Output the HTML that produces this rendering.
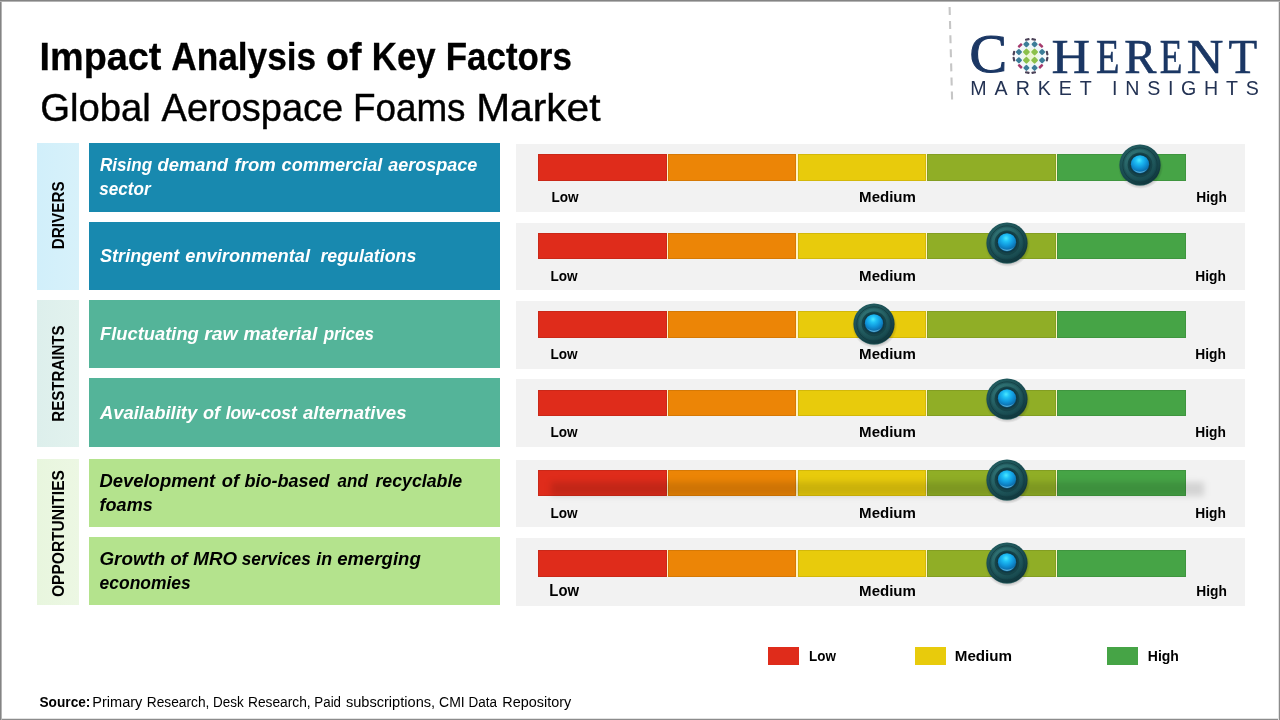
<!DOCTYPE html>
<html lang="en">
<head>
<meta charset="utf-8">
<title>Impact Analysis of Key Factors - Global Aerospace Foams Market</title>
<style>
html,body{margin:0;padding:0;background:#fff;}
body{width:1280px;height:720px;position:relative;overflow:hidden;font-family:'Liberation Sans',sans-serif;}
#frame{position:absolute;left:0;top:0;width:1280px;height:720px;z-index:50;pointer-events:none;background:
linear-gradient(#848484,#848484) 0 0/100% 1px no-repeat,linear-gradient(#b4b4b4,#b4b4b4) 0 1px/100% 1px no-repeat,
linear-gradient(#848484,#848484) 0 0/1px 100% no-repeat,linear-gradient(#b4b4b4,#b4b4b4) 1px 0/1px 100% no-repeat,
linear-gradient(#8c8c8c,#8c8c8c) 100% 0/1px 100% no-repeat,linear-gradient(#e2e2e2,#e2e2e2) 1278px 0/1px 100% no-repeat,
linear-gradient(#8c8c8c,#8c8c8c) 0 100%/100% 1px no-repeat,linear-gradient(#e2e2e2,#e2e2e2) 0 718px/100% 1px no-repeat;}
.b{position:absolute;}
.t{position:absolute;left:0;top:0;white-space:nowrap;transform-origin:0 0;margin:0;padding:0;}
.t span{display:inline-block;width:0;white-space:nowrap;transform-origin:0 0;}
.cat{position:absolute;left:37px;width:42.3px;}
.f1{background:#1889af;} .f2{background:#54b499;} .f3{background:#b4e38d;}
.fac{position:absolute;left:89.2px;width:410.8px;}
.pan{position:absolute;left:516.2px;width:728.7px;background:#f2f2f2;}
.bar{position:absolute;left:538px;width:648px;background:#fff4c6;}
.bar i{position:absolute;top:0;height:100%;box-shadow:inset 0 0 0 1px rgba(0,0,0,.09);}
.s1{left:0;width:128.8px;background:#df2c1b;} .s2{left:129.9px;width:128px;background:#ec8506;} .s3{left:260.1px;width:127.8px;background:#e8cb0c;} .s4{left:389.05px;width:128.75px;background:#90ae26;} .s5{left:519.05px;width:128.95px;background:#46a446;}
.lg{position:absolute;top:647px;height:18.2px;width:31.2px;}
svg.k{position:absolute;overflow:visible;}
</style>
</head>
<body>
<!-- category columns -->
<div class="cat" style="top:143px;height:146.8px;background:linear-gradient(90deg,#d1effa,#d7f1fa)"></div>
<div class="cat" style="top:300px;height:147px;background:linear-gradient(90deg,#ddefec,#e2f2ee)"></div>
<div class="cat" style="top:459.2px;height:145.4px;background:linear-gradient(90deg,#e8f6de,#ecf7e3)"></div>

<!-- factor boxes -->
<div class="fac f1" style="top:143.2px;height:68.6px"></div>
<div class="fac f1" style="top:222px;height:67.5px"></div>
<div class="fac f2" style="top:300px;height:67.5px"></div>
<div class="fac f2" style="top:378.2px;height:68.8px"></div>
<div class="fac f3" style="top:459.2px;height:67.6px"></div>
<div class="fac f3" style="top:537px;height:67.5px"></div>

<!-- panels -->
<div class="pan" style="top:144.2px;height:67.6px"></div>
<div class="pan" style="top:223px;height:67px"></div>
<div class="pan" style="top:301.2px;height:67.5px"></div>
<div class="pan" style="top:379.2px;height:67.8px"></div>
<div class="pan" style="top:460px;height:66.8px"></div>
<div class="pan" style="top:538px;height:67.7px"></div>

<!-- bars -->
<div class="bar" style="top:154px;height:26.8px"><i class="s1"></i><i class="s2"></i><i class="s3"></i><i class="s4"></i><i class="s5"></i></div>
<div class="bar" style="top:232.8px;height:26.2px"><i class="s1"></i><i class="s2"></i><i class="s3"></i><i class="s4"></i><i class="s5"></i></div>
<div class="bar" style="top:311px;height:26.8px"><i class="s1"></i><i class="s2"></i><i class="s3"></i><i class="s4"></i><i class="s5"></i></div>
<div class="bar" style="top:390px;height:25.8px"><i class="s1"></i><i class="s2"></i><i class="s3"></i><i class="s4"></i><i class="s5"></i></div>
<div class="bar" style="top:470px;height:25.8px"><i class="s1"></i><i class="s2"></i><i class="s3"></i><i class="s4"></i><i class="s5"></i></div>
<div class="bar" style="top:550px;height:26.8px"><i class="s1"></i><i class="s2"></i><i class="s3"></i><i class="s4"></i><i class="s5"></i></div>
<!-- odd shadow on row 5 -->
<div class="b" style="left:551px;top:481.5px;width:653px;height:14px;background:rgba(0,0,0,.125);filter:blur(3px)"></div>

<!-- legend swatches -->
<div class="lg" style="left:768px;background:#df2c1b"></div>
<div class="lg" style="left:914.6px;background:#e8cb0c"></div>
<div class="lg" style="left:1107px;background:#46a446"></div>

<!-- knob definition + instances -->
<svg width="0" height="0" style="position:absolute">
<defs>
<radialGradient id="kg1" cx="42%" cy="36%" r="62%"><stop offset="0" stop-color="#2a686b"/><stop offset=".55" stop-color="#20585c"/><stop offset=".85" stop-color="#17474d"/><stop offset="1" stop-color="#11383e"/></radialGradient>
<linearGradient id="kg2" x1=".2" y1="0" x2=".8" y2="1"><stop offset="0" stop-color="#3f8b8b"/><stop offset=".5" stop-color="#266366"/><stop offset="1" stop-color="#174a4f"/></linearGradient>
<radialGradient id="kg3" cx="45%" cy="28%" r="72%"><stop offset="0" stop-color="#4ae8ff"/><stop offset=".25" stop-color="#1fc0f5"/><stop offset=".55" stop-color="#1199dd"/><stop offset=".85" stop-color="#0c72b2"/><stop offset="1" stop-color="#0a5a8c"/></radialGradient>
<radialGradient id="ksh" cx="50%" cy="50%" r="50%"><stop offset=".72" stop-color="#000" stop-opacity=".34"/><stop offset="1" stop-color="#000" stop-opacity="0"/></radialGradient>
</defs>
</svg>
<svg class="k" style="left:1140.35px;top:165.1px" width="1" height="1"><g><ellipse cx="0.6" cy="2" rx="22.6" ry="22" fill="url(#ksh)"/><circle r="20.6" fill="url(#kg1)"/><path d="M-15.5 13.6 A20.6 20.6 0 0 0 15.5 13.6 A22.5 22.5 0 0 1 -15.5 13.6Z" fill="#3f8f8a" opacity=".4"/><circle r="17.2" fill="none" stroke="#10383d" stroke-width=".9" opacity=".75"/><circle r="15.4" fill="url(#kg2)" opacity=".42"/><circle r="12.4" cy="-.2" fill="#164449"/><circle r="10.6" cy="-.6" fill="#103a44"/><circle r="9.1" cy="-.7" fill="url(#kg3)"/><path d="M-7.2 3.6 A8.2 8.2 0 0 0 7.2 3.6 A9.6 9.6 0 0 1 -7.2 3.6Z" fill="#8fe0fa" opacity=".6"/></g></svg>
<svg class="k" style="left:1007.2px;top:242.8px" width="1" height="1"><g><ellipse cx="0.6" cy="2" rx="22.6" ry="22" fill="url(#ksh)"/><circle r="20.6" fill="url(#kg1)"/><path d="M-15.5 13.6 A20.6 20.6 0 0 0 15.5 13.6 A22.5 22.5 0 0 1 -15.5 13.6Z" fill="#3f8f8a" opacity=".4"/><circle r="17.2" fill="none" stroke="#10383d" stroke-width=".9" opacity=".75"/><circle r="15.4" fill="url(#kg2)" opacity=".42"/><circle r="12.4" cy="-.2" fill="#164449"/><circle r="10.6" cy="-.6" fill="#103a44"/><circle r="9.1" cy="-.7" fill="url(#kg3)"/><path d="M-7.2 3.6 A8.2 8.2 0 0 0 7.2 3.6 A9.6 9.6 0 0 1 -7.2 3.6Z" fill="#8fe0fa" opacity=".6"/></g></svg>
<svg class="k" style="left:874.1px;top:324.2px" width="1" height="1"><g><ellipse cx="0.6" cy="2" rx="22.6" ry="22" fill="url(#ksh)"/><circle r="20.6" fill="url(#kg1)"/><path d="M-15.5 13.6 A20.6 20.6 0 0 0 15.5 13.6 A22.5 22.5 0 0 1 -15.5 13.6Z" fill="#3f8f8a" opacity=".4"/><circle r="17.2" fill="none" stroke="#10383d" stroke-width=".9" opacity=".75"/><circle r="15.4" fill="url(#kg2)" opacity=".42"/><circle r="12.4" cy="-.2" fill="#164449"/><circle r="10.6" cy="-.6" fill="#103a44"/><circle r="9.1" cy="-.7" fill="url(#kg3)"/><path d="M-7.2 3.6 A8.2 8.2 0 0 0 7.2 3.6 A9.6 9.6 0 0 1 -7.2 3.6Z" fill="#8fe0fa" opacity=".6"/></g></svg>
<svg class="k" style="left:1007.2px;top:399.1px" width="1" height="1"><g><ellipse cx="0.6" cy="2" rx="22.6" ry="22" fill="url(#ksh)"/><circle r="20.6" fill="url(#kg1)"/><path d="M-15.5 13.6 A20.6 20.6 0 0 0 15.5 13.6 A22.5 22.5 0 0 1 -15.5 13.6Z" fill="#3f8f8a" opacity=".4"/><circle r="17.2" fill="none" stroke="#10383d" stroke-width=".9" opacity=".75"/><circle r="15.4" fill="url(#kg2)" opacity=".42"/><circle r="12.4" cy="-.2" fill="#164449"/><circle r="10.6" cy="-.6" fill="#103a44"/><circle r="9.1" cy="-.7" fill="url(#kg3)"/><path d="M-7.2 3.6 A8.2 8.2 0 0 0 7.2 3.6 A9.6 9.6 0 0 1 -7.2 3.6Z" fill="#8fe0fa" opacity=".6"/></g></svg>
<svg class="k" style="left:1007.2px;top:480.2px" width="1" height="1"><g><ellipse cx="0.6" cy="2" rx="22.6" ry="22" fill="url(#ksh)"/><circle r="20.6" fill="url(#kg1)"/><path d="M-15.5 13.6 A20.6 20.6 0 0 0 15.5 13.6 A22.5 22.5 0 0 1 -15.5 13.6Z" fill="#3f8f8a" opacity=".4"/><circle r="17.2" fill="none" stroke="#10383d" stroke-width=".9" opacity=".75"/><circle r="15.4" fill="url(#kg2)" opacity=".42"/><circle r="12.4" cy="-.2" fill="#164449"/><circle r="10.6" cy="-.6" fill="#103a44"/><circle r="9.1" cy="-.7" fill="url(#kg3)"/><path d="M-7.2 3.6 A8.2 8.2 0 0 0 7.2 3.6 A9.6 9.6 0 0 1 -7.2 3.6Z" fill="#8fe0fa" opacity=".6"/></g></svg>
<svg class="k" style="left:1007.2px;top:563.2px" width="1" height="1"><g><ellipse cx="0.6" cy="2" rx="22.6" ry="22" fill="url(#ksh)"/><circle r="20.6" fill="url(#kg1)"/><path d="M-15.5 13.6 A20.6 20.6 0 0 0 15.5 13.6 A22.5 22.5 0 0 1 -15.5 13.6Z" fill="#3f8f8a" opacity=".4"/><circle r="17.2" fill="none" stroke="#10383d" stroke-width=".9" opacity=".75"/><circle r="15.4" fill="url(#kg2)" opacity=".42"/><circle r="12.4" cy="-.2" fill="#164449"/><circle r="10.6" cy="-.6" fill="#103a44"/><circle r="9.1" cy="-.7" fill="url(#kg3)"/><path d="M-7.2 3.6 A8.2 8.2 0 0 0 7.2 3.6 A9.6 9.6 0 0 1 -7.2 3.6Z" fill="#8fe0fa" opacity=".6"/></g></svg>

<!-- logo -->
<svg class="b" style="left:940px;top:0" width="340" height="110" viewBox="940 0 340 110" role="img" aria-label="COHERENT MARKET INSIGHTS logo mark">
<title>COHERENT MARKET INSIGHTS</title>
<line x1="949.6" y1="7" x2="952.1" y2="100" stroke="#c6c6c6" stroke-width="2.1" stroke-dasharray="8 6.1"/>
<defs><radialGradient id="gh" cx="50%" cy="50%" r="50%"><stop offset="0" stop-color="#eaf6d0"/><stop offset=".38" stop-color="#f0f8e2"/><stop offset=".5" stop-color="#edf6f8"/><stop offset=".82" stop-color="#f6fafc"/><stop offset="1" stop-color="#fff" stop-opacity="0"/></radialGradient></defs>
<circle cx="1030.5" cy="56.1" r="17.5" fill="url(#gh)"/>
<g id="globe" transform="translate(1030.5 56.1)">
 <g fill="#8bc04a">
  <rect x="-3" y="-3" width="6" height="6" rx="1.2" transform="translate(-4.1 -4.1) rotate(45) scale(.9)"/>
  <rect x="-3" y="-3" width="6" height="6" rx="1.2" transform="translate(4.1 -4.1) rotate(45) scale(.9)"/>
  <rect x="-3" y="-3" width="6" height="6" rx="1.2" transform="translate(-4.1 4.1) rotate(45) scale(.9)"/>
  <rect x="-3" y="-3" width="6" height="6" rx="1.2" transform="translate(4.1 4.1) rotate(45) scale(.9)"/>
 </g>
 <g fill="#3c7d98">
  <rect x="-3" y="-3" width="6" height="6" rx="1.2" transform="translate(-4.1 -11.8) rotate(45) scale(.8)"/>
  <rect x="-3" y="-3" width="6" height="6" rx="1.2" transform="translate(4.1 -11.8) rotate(45) scale(.8)"/>
  <rect x="-3" y="-3" width="6" height="6" rx="1.2" transform="translate(-4.1 11.8) rotate(45) scale(.8)"/>
  <rect x="-3" y="-3" width="6" height="6" rx="1.2" transform="translate(4.1 11.8) rotate(45) scale(.8)"/>
  <rect x="-3" y="-3" width="6" height="6" rx="1.2" transform="translate(-11.6 -4.1) rotate(45) scale(.8)"/>
  <rect x="-3" y="-3" width="6" height="6" rx="1.2" transform="translate(-11.6 4.1) rotate(45) scale(.8)"/>
  <rect x="-3" y="-3" width="6" height="6" rx="1.2" transform="translate(11.6 -4.1) rotate(45) scale(.8)"/>
  <rect x="-3" y="-3" width="6" height="6" rx="1.2" transform="translate(11.6 4.1) rotate(45) scale(.8)"/>
 </g>
 <g fill="#a63a6c">
  <rect x="-2.5" y="-1.3" width="5" height="2.6" rx=".8" transform="translate(-10.4 -10.6) rotate(-45)"/>
  <rect x="-2.5" y="-1.3" width="5" height="2.6" rx=".8" transform="translate(10.4 -10.6) rotate(45)"/>
  <rect x="-2.5" y="-1.3" width="5" height="2.6" rx=".8" transform="translate(-10.4 10.2) rotate(45)"/>
  <rect x="-2.5" y="-1.3" width="5" height="2.6" rx=".8" transform="translate(10.4 10.2) rotate(-45)"/>
 </g>
 <g fill="#4b4258">
  <rect x="-2.3" y="-1.1" width="4.6" height="2.2" rx=".8" transform="translate(-3.2 -16.7) rotate(-12)"/>
  <rect x="-2.3" y="-1.1" width="4.6" height="2.2" rx=".8" transform="translate(3.2 -16.7) rotate(12)"/>
  <rect x="-2.3" y="-1.1" width="4.6" height="2.2" rx=".8" transform="translate(-3.2 16.5) rotate(12)"/>
  <rect x="-2.3" y="-1.1" width="4.6" height="2.2" rx=".8" transform="translate(3.2 16.5) rotate(-12)"/>
  <rect x="-1.1" y="-2.3" width="2.2" height="4.6" rx=".8" transform="translate(-16.6 -3) rotate(12)"/>
  <rect x="-1.1" y="-2.3" width="2.2" height="4.6" rx=".8" transform="translate(-16.6 3) rotate(-12)"/>
  <rect x="-1.1" y="-2.3" width="2.2" height="4.6" rx=".8" transform="translate(16.6 -3) rotate(-12)"/>
  <rect x="-1.1" y="-2.3" width="2.2" height="4.6" rx=".8" transform="translate(16.6 3) rotate(12)"/>
 </g>
</g>
</svg>

<div class="t" style="font:bold 39.5px/46px 'Liberation Sans', sans-serif;color:#000;-webkit-text-stroke:.3px #000;transform:translate(39px,33px)"><span style="transform:translateX(0.48px) scaleX(0.9581)">Impact</span> <span style="margin-left:121.026px;transform:translateX(0.26px) scaleX(0.8918)">Analysis</span> <span style="margin-left:144.026px;transform:translateX(0.08px) scaleX(0.9517)">of</span> <span style="margin-left:34.026px;transform:translateX(0.81px) scaleX(0.8800)">Key</span> <span style="margin-left:63.026px;transform:translateX(0.78px) scaleX(0.8836)">Factors</span></div>
<div class="t" style="font:39.5px/46px 'Liberation Sans', sans-serif;color:#000;-webkit-text-stroke:.4px #000;transform:translate(40px,84px)"><span style="transform:translateX(0.13px) scaleX(0.9683)">Global</span> <span style="margin-left:110.026px;transform:translateX(0.62px) scaleX(0.9617)">Aerospace</span> <span style="margin-left:180.026px;transform:translateX(0.92px) scaleX(0.9328)">Foams</span> <span style="margin-left:113.026px;transform:translateX(0.16px) scaleX(1.0306)">Market</span></div>
<div class="t" style="font:italic bold 19.2px/23px 'Liberation Sans', sans-serif;color:#fff;transform:translate(99px,153px)"><span style="transform:translateX(0.90px) scaleX(0.8903)">Rising</span> <span style="margin-left:52.669px;transform:translateX(0.52px) scaleX(0.9590)">demand</span> <span style="margin-left:71.669px;transform:translateX(0.46px) scaleX(0.9682)">from</span> <span style="margin-left:41.669px;transform:translateX(0.61px) scaleX(0.9448)">commercial</span> <span style="margin-left:101.669px;transform:translateX(0.13px) scaleX(0.9392)">aerospace</span></div>
<div class="t" style="font:italic bold 19.2px/23px 'Liberation Sans', sans-serif;color:#fff;transform:translate(99.30px,177px) scaleX(0.8914)">sector</div>
<div class="t" style="font:italic bold 19.2px/23px 'Liberation Sans', sans-serif;color:#fff;transform:translate(100px,244px)"><span style="transform:translateX(0.00px) scaleX(0.9429)">Stringent</span> <span style="margin-left:79.669px;transform:translateX(0.30px) scaleX(0.9506)">environmental</span> <span style="margin-left:129.669px;transform:translateX(0.40px) scaleX(0.9273)">regulations</span></div>
<div class="t" style="font:italic bold 19.2px/23px 'Liberation Sans', sans-serif;color:#fff;transform:translate(100px,322px)"><span style="transform:translateX(0.00px) scaleX(0.9555)">Fluctuating</span> <span style="margin-left:98.669px;transform:translateX(0.23px) scaleX(1.0131)">raw</span> <span style="margin-left:33.669px;transform:translateX(0.51px) scaleX(1.0018)">material</span> <span style="margin-left:74.669px;transform:translateX(0.71px) scaleX(0.8880)">prices</span></div>
<div class="t" style="font:italic bold 19.2px/23px 'Liberation Sans', sans-serif;color:#fff;transform:translate(99px,401px)"><span style="transform:translateX(0.96px) scaleX(0.9596)">Availability</span> <span style="margin-left:97.669px;transform:translateX(0.99px) scaleX(0.9444)">of</span> <span style="margin-left:17.669px;transform:translateX(0.65px) scaleX(0.9149)">low-cost</span> <span style="margin-left:71.669px;transform:translateX(1.00px) scaleX(0.9703)">alternatives</span></div>
<div class="t" style="font:italic bold 19.2px/23px 'Liberation Sans', sans-serif;color:#000;transform:translate(99px,469px)"><span style="transform:translateX(0.40px) scaleX(0.9614)">Development</span> <span style="margin-left:116.669px;transform:translateX(0.73px) scaleX(0.9571)">of</span> <span style="margin-left:17.669px;transform:translateX(0.49px) scaleX(0.9392)">bio-based</span> <span style="margin-left:87.669px;transform:translateX(0.60px) scaleX(0.8844)">and</span> <span style="margin-left:32.669px;transform:translateX(0.40px) scaleX(0.9246)">recyclable</span></div>
<div class="t" style="font:italic bold 19.2px/23px 'Liberation Sans', sans-serif;color:#000;transform:translate(99.60px,493px) scaleX(0.9394)">foams</div>
<div class="t" style="font:italic bold 19.2px/23px 'Liberation Sans', sans-serif;color:#000;transform:translate(99px,547px)"><span style="transform:translateX(0.40px) scaleX(0.9819)">Growth</span> <span style="margin-left:65.669px;transform:translateX(0.42px) scaleX(0.9539)">of</span> <span style="margin-left:17.669px;transform:translateX(0.31px) scaleX(0.9788)">MRO</span> <span style="margin-left:42.669px;transform:translateX(0.75px) scaleX(0.8977)">services</span> <span style="margin-left:69.669px;transform:translateX(0.31px) scaleX(0.9290)">in</span> <span style="margin-left:15.669px;transform:translateX(0.28px) scaleX(0.9663)">emerging</span></div>
<div class="t" style="font:italic bold 19.2px/23px 'Liberation Sans', sans-serif;color:#000;transform:translate(99.60px,571px) scaleX(0.9088)">economies</div>
<div class="t" style="font:bold 15px/19px 'Liberation Sans', sans-serif;color:#000;transform:translate(551.50px,187px) scaleX(0.9037)">Low</div>
<div class="t" style="font:bold 15px/19px 'Liberation Sans', sans-serif;color:#000;transform:translate(859.10px,187px) scaleX(1.0031)">Medium</div>
<div class="t" style="font:bold 15px/19px 'Liberation Sans', sans-serif;color:#000;transform:translate(1196.28px,187px) scaleX(0.9172)">High</div>
<div class="t" style="font:bold 15px/19px 'Liberation Sans', sans-serif;color:#000;transform:translate(550.50px,266px) scaleX(0.9037)">Low</div>
<div class="t" style="font:bold 15px/19px 'Liberation Sans', sans-serif;color:#000;transform:translate(859.10px,266px) scaleX(1.0031)">Medium</div>
<div class="t" style="font:bold 15px/19px 'Liberation Sans', sans-serif;color:#000;transform:translate(1195.28px,266px) scaleX(0.9172)">High</div>
<div class="t" style="font:bold 15px/19px 'Liberation Sans', sans-serif;color:#000;transform:translate(550.50px,344px) scaleX(0.9037)">Low</div>
<div class="t" style="font:bold 15px/19px 'Liberation Sans', sans-serif;color:#000;transform:translate(859.10px,344px) scaleX(1.0031)">Medium</div>
<div class="t" style="font:bold 15px/19px 'Liberation Sans', sans-serif;color:#000;transform:translate(1195.28px,344px) scaleX(0.9172)">High</div>
<div class="t" style="font:bold 15px/19px 'Liberation Sans', sans-serif;color:#000;transform:translate(550.50px,422px) scaleX(0.9037)">Low</div>
<div class="t" style="font:bold 15px/19px 'Liberation Sans', sans-serif;color:#000;transform:translate(859.10px,422px) scaleX(1.0031)">Medium</div>
<div class="t" style="font:bold 15px/19px 'Liberation Sans', sans-serif;color:#000;transform:translate(1195.28px,422px) scaleX(0.9172)">High</div>
<div class="t" style="font:bold 15px/19px 'Liberation Sans', sans-serif;color:#000;transform:translate(550.50px,503px) scaleX(0.9037)">Low</div>
<div class="t" style="font:bold 15px/19px 'Liberation Sans', sans-serif;color:#000;transform:translate(859.10px,503px) scaleX(1.0031)">Medium</div>
<div class="t" style="font:bold 15px/19px 'Liberation Sans', sans-serif;color:#000;transform:translate(1195.28px,503px) scaleX(0.9172)">High</div>
<div class="t" style="font:bold 15.600000000000001px/19px 'Liberation Sans', sans-serif;color:#000;transform:translate(549.35px,581px) scaleX(0.9533)">Low</div>
<div class="t" style="font:bold 15px/19px 'Liberation Sans', sans-serif;color:#000;transform:translate(859.10px,581px) scaleX(1.0031)">Medium</div>
<div class="t" style="font:bold 15px/19px 'Liberation Sans', sans-serif;color:#000;transform:translate(1196.28px,581px) scaleX(0.9172)">High</div>
<div class="t" style="font:bold 15px/19px 'Liberation Sans', sans-serif;color:#000;transform:translate(809.10px,646px) scaleX(0.8951)">Low</div>
<div class="t" style="font:bold 15px/19px 'Liberation Sans', sans-serif;color:#000;transform:translate(954.74px,646px) scaleX(1.0121)">Medium</div>
<div class="t" style="font:bold 15px/19px 'Liberation Sans', sans-serif;color:#000;transform:translate(1147.82px,646px) scaleX(0.9328)">High</div>
<div class="t" style="font:bold 14.9px/18px 'Liberation Sans', sans-serif;color:#000;transform:translate(39.50px,693px) scaleX(0.9177)">Source:</div>
<div class="t" style="font:14.9px/18px 'Liberation Sans', sans-serif;color:#000;transform:translate(92px,693px)"><span style="transform:translateX(0.27px) scaleX(0.9767)">Primary</span> <span style="margin-left:49.863px;transform:translateX(0.76px) scaleX(0.9226)">Research,</span> <span style="margin-left:61.863px;transform:translateX(0.94px) scaleX(0.9044)">Desk</span> <span style="margin-left:31.863px;transform:translateX(0.01px) scaleX(0.9226)">Research,</span> <span style="margin-left:61.863px;transform:translateX(0.37px) scaleX(0.8933)">Paid</span> <span style="margin-left:26.863px;transform:translateX(0.88px) scaleX(0.9801)">subscriptions,</span> <span style="margin-left:89.863px;transform:translateX(0.03px) scaleX(0.9401)">CMI</span> <span style="margin-left:24.863px;transform:translateX(0.44px) scaleX(0.9066)">Data</span> <span style="margin-left:29.863px;transform:translateX(0.32px) scaleX(0.9680)">Repository</span></div>
<div class="t" style="font:55.6px/64px 'Liberation Serif', serif;color:#1b3764;transform:translate(969.38px,21px) scaleX(1.0121);-webkit-text-stroke:1.1px #1b3764">C</div>
<div class="t" style="font:47.6px/54px 'Liberation Serif', serif;color:#1b3764;-webkit-text-stroke:.55px #1b3764;transform:translate(1051px,30px)"><span style="transform:translateX(0.38px) scaleX(1.1219)">H</span><span style="margin-left:44.000px;transform:translateX(0.99px) scaleX(0.8077)">E</span><span style="margin-left:29.000px;transform:translateX(0.29px) scaleX(1.0129)">R</span><span style="margin-left:35.000px;transform:translateX(0.72px) scaleX(0.7808)">E</span><span style="margin-left:27.000px;transform:translateX(0.73px) scaleX(1.0667)">N</span><span style="margin-left:42.000px;transform:translateX(0.40px) scaleX(0.9862)">T</span></div>
<div class="t" style="font:20px/24px 'Liberation Sans', sans-serif;color:#233253;transform:translate(970.32px,76px) scaleX(0.9800);letter-spacing:8.126px">MARKET</div>
<div class="t" style="font:20px/24px 'Liberation Sans', sans-serif;color:#233253;transform:translate(1112.12px,76px) scaleX(0.9800);letter-spacing:7.879px">INSIGHTS</div>
<div class="t" style="font:bold 17.1px/21px 'Liberation Sans', sans-serif;color:#000;transform:translate(48.20px,249.14px) rotate(-90deg) scaleX(0.8916)">DRIVERS</div>
<div class="t" style="font:bold 17.1px/21px 'Liberation Sans', sans-serif;color:#000;transform:translate(48.20px,421.63px) rotate(-90deg) scaleX(0.8812)">RESTRAINTS</div>
<div class="t" style="font:bold 17.1px/21px 'Liberation Sans', sans-serif;color:#000;transform:translate(48.20px,597.00px) rotate(-90deg) scaleX(0.9087)">OPPORTUNITIES</div>

<div id="frame"></div>
</body>
</html>
